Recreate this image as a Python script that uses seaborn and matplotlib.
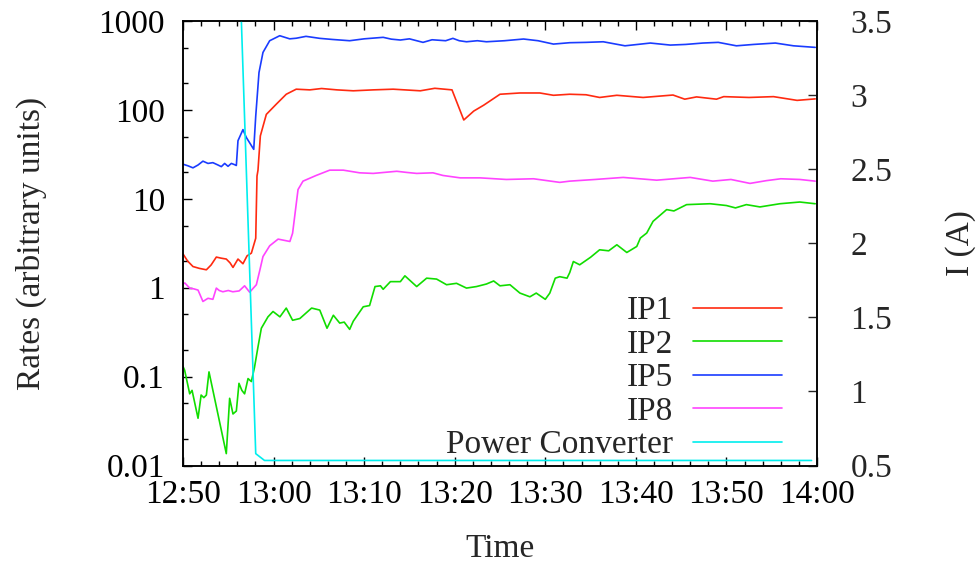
import numpy as np
import pandas as pd
import matplotlib
matplotlib.use("Agg")
import matplotlib.pyplot as plt
import matplotlib.dates as mdates
from matplotlib.ticker import LogLocator, NullFormatter
import seaborn as sns

# minutes after 12:50 and rates
ip1_t = [0, 0.5, 1.1, 1.8, 2.58, 3.1, 3.68, 4.2, 4.78, 5.2, 5.52, 6.07, 6.62, 7.07, 7.55, 8.03, 8.17, 8.28,
         8.54, 9.2, 10.3, 11.4, 12.5, 14.0, 15.3, 17.0, 18.8, 21.0, 23.2, 26.2, 27.8, 29.7, 31.0, 32.1, 33.2,
         35.0, 37.2, 39.4, 40.9, 42.7, 44.5, 46.0, 47.9, 50.8, 54.1, 55.4, 56.7, 58.9, 59.7, 62.5, 65.2, 67.8, 69.8]
ip1_v = [2.4, 2.0, 1.73, 1.65, 1.59, 1.8, 2.21, 2.15, 2.1, 1.9, 1.69, 2.1, 1.86, 2.28, 2.45, 3.6, 18, 21,
         51, 89, 116, 150, 171, 168, 174, 168, 164, 168, 171, 164, 175, 168, 77, 97, 113,
         150, 155, 155, 146, 150, 148, 138, 146, 138, 147, 132, 140, 132, 141, 138, 141, 128, 133]

ip2_t = [0, 0.18, 0.74, 1.0, 1.66, 2.0, 2.3, 2.58, 2.87, 4.78, 5.15, 5.52, 5.89, 6.18, 6.5, 6.8, 7.18, 7.55,
         7.9, 8.28, 8.65, 9.38, 9.94, 10.7, 11.4, 12.1, 12.9, 14.2, 15.1, 15.9, 16.6, 17.3, 17.8, 18.4, 18.8,
         19.9, 20.6, 21.2, 21.8, 22.1, 22.9, 24.0, 24.5, 25.8, 26.9, 28.0, 29.1, 30.2, 31.3, 32.4, 33.5, 34.3,
         35.0, 36.1, 37.2, 38.3, 39.0, 40.0, 40.5, 41.1, 41.6, 42.4, 42.7, 43.1, 43.8, 45.0, 46.0, 47.0, 47.9,
         49.0, 50.1, 50.5, 51.2, 51.9, 53.4, 54.2, 55.6, 58.2, 60.0, 61.0, 62.2, 63.7, 65.9, 68.1, 69.8]
ip2_v = [0.13, 0.118, 0.064, 0.07, 0.034, 0.062, 0.058, 0.062, 0.113, 0.0136, 0.057, 0.038, 0.041, 0.084,
         0.07, 0.064, 0.095, 0.088, 0.128, 0.216, 0.35, 0.47, 0.54, 0.47, 0.59, 0.43, 0.45, 0.59, 0.56, 0.35,
         0.49, 0.40, 0.41, 0.34, 0.42, 0.61, 0.63, 1.03, 1.05, 0.96, 1.17, 1.17, 1.36, 1.03, 1.28, 1.25, 1.08,
         1.12, 0.99, 1.03, 1.1, 1.19, 1.05, 1.08, 0.87, 0.79, 0.87, 0.74, 0.87, 1.28, 1.33, 1.28, 1.48, 1.97,
         1.81, 2.2, 2.67, 2.6, 3.04, 2.49, 2.91, 3.62, 4.12, 5.58, 7.56, 7.3, 8.6, 8.8, 8.4, 7.9, 8.6, 8.1,
         8.8, 9.2, 8.8]

ip5_t = [0, 0.55, 1.1, 1.66, 2.2, 2.76, 3.3, 3.86, 4.23, 4.6, 4.97, 5.34, 5.7, 5.89, 6.07, 6.62, 6.99, 7.81,
         8.03, 8.39, 8.83, 9.57, 10.68, 11.78, 12.5, 13.58, 15.1, 16.5, 18.4, 20.0, 22.1, 23.0, 24.0, 25.0,
         26.5, 27.5, 29.0, 29.8, 30.5, 31.3, 32.5, 33.5, 35.5, 37.6, 39.2, 40.9, 42.7, 44.5, 46.4, 48.8, 50.2,
         51.6, 53.8, 55.5, 57.4, 59.1, 61.1, 63.0, 65.4, 67.4, 69.8]
ip5_v = [24.5, 23.5, 22.3, 24, 26.5, 25, 25.5, 24, 23, 25, 23.2, 25, 24.2, 23.7, 45, 60, 49, 36,
         85, 263, 443, 600, 683, 630, 640, 672, 638, 620, 600, 630, 655, 625, 611, 630,
         575, 615, 600, 638, 600, 584, 600, 584, 600, 627, 600, 550, 570, 575, 584, 526, 545,
         565, 536, 545, 565, 575, 526, 545, 565, 526, 505]

ip8_t = [0, 0.2, 0.74, 1.2, 1.66, 2.2, 2.76, 3.3, 3.68, 4.0, 4.4, 5.0, 5.5, 6.2, 6.8, 7.36, 8.1, 8.5, 8.83,
         9.57, 10.5, 11.8, 12.1, 12.7, 13.25, 14.7, 16.2, 17.7, 19.5, 21.0, 23.6, 24.7, 25.8, 27.6, 28.7,
         30.6, 32.8, 35.7, 38.7, 41.6, 42.7, 45.5, 48.6, 52.3, 56.0, 58.5, 60.5, 62.6, 64.4, 66.0, 68.1, 69.8]
ip8_v = [1.1, 1.13, 0.99, 0.97, 0.94, 0.70, 0.76, 0.74, 0.99, 0.93, 0.90, 0.93, 0.90, 0.92, 1.05, 0.89, 1.08,
         1.6, 2.24, 2.96, 3.52, 3.31, 4.1, 12.7, 15.8, 18.3, 21, 21, 19.6, 19.3, 20.4, 19.8, 19.3, 19.6, 18.3,
         17.2, 17.2, 16.5, 16.8, 15.3, 15.8, 16.5, 17.4, 16.2, 17.4, 15.8, 16.5, 14.9, 16.0, 16.8, 16.5, 15.8]

# power converter current (A), right axis
pc_t = [0, 6.2, 8.03, 9.0, 69.4]
pc_i = [3.95, 3.95, 0.58, 0.534, 0.534]

start = pd.Timestamp("2000-01-01 12:50")


def to_time(minutes):
    return start + pd.to_timedelta(minutes, unit="min")


sns.set_style("white")
plt.rcParams["font.family"] = ["Liberation Serif", "DejaVu Serif"]
fs = 24
plt.rcParams["font.size"] = fs

fig = plt.figure(figsize=(9.76, 5.65), dpi=100)
ax = fig.add_axes([183 / 976, 1 - 465.5 / 565, 634 / 976, 444.5 / 565])
ax2 = ax.twinx()

lw = 1.2
sns.lineplot(x=to_time(ip1_t), y=ip1_v, ax=ax, color="#ff2a10", lw=lw, label="IP1")
sns.lineplot(x=to_time(ip2_t), y=ip2_v, ax=ax, color="#11dd00", lw=lw, label="IP2")
sns.lineplot(x=to_time(ip5_t), y=ip5_v, ax=ax, color="#1a3cff", lw=lw, label="IP5")
sns.lineplot(x=to_time(ip8_t), y=ip8_v, ax=ax, color="#ff44ff", lw=lw, label="IP8")
sns.lineplot(x=to_time(pc_t), y=pc_i, ax=ax2, color="#00eeee", lw=lw, label="Power Converter")

ax.set_yscale("log")
ax.set_xlim(to_time(0), to_time(70))
ax2.set_ylim(0.5, 3.5)

ax.yaxis.set_minor_locator(LogLocator(base=10, subs=[2.0, 5.0]))
ax.yaxis.set_minor_formatter(NullFormatter())
ax.set_yticks([0.01, 0.1, 1, 10, 100, 1000])
ax.set_yticklabels(["0.01", "0.1", "1", "10", "100", "1000"])
ax.set_ylim(0.01, 1000)

ax.xaxis.set_major_locator(mdates.MinuteLocator(byminute=range(0, 60, 10)))
ax.xaxis.set_minor_locator(mdates.MinuteLocator(byminute=range(0, 60, 2)))
ax.xaxis.set_major_formatter(mdates.DateFormatter("%H:%M"))

ax2.set_yticks([0.5, 1, 1.5, 2, 2.5, 3, 3.5])
ax2.set_yticklabels(["0.5", "1", "1.5", "2", "2.5", "3", "3.5"])

ax.tick_params(axis="both", which="both", direction="in", colors="black", labelsize=fs)
ax.tick_params(axis="x", which="both", top=True, bottom=True)
ax.tick_params(axis="y", which="both", left=True, right=False)
ax.tick_params(which="major", length=6.5, width=1.0)
ax.tick_params(which="minor", length=3.5, width=1.0)
ax.tick_params(axis="y", pad=13)
ax.tick_params(axis="x", pad=10)
ax2.tick_params(axis="y", which="major", direction="in", length=6.5, width=1.0, pad=24,
                right=True, left=False, labelsize=fs)
ax2.tick_params(axis="y", which="minor", right=False, left=False)

for a in (ax, ax2):
    for s in a.spines.values():
        s.set_color("black")
        s.set_linewidth(1.1)

ax.set_xlabel("Time", fontsize=fs)
ax.set_ylabel("Rates (arbitrary units)", fontsize=fs)
ax2.set_ylabel("I (A)", fontsize=fs)
ax.xaxis.set_label_coords(0.5, -0.152)
ax.yaxis.set_label_coords(-0.215, 0.5)
ax2.yaxis.set_label_coords(1.202, 0.5)

h1, l1 = ax.get_legend_handles_labels()
h2, l2 = ax2.get_legend_handles_labels()
if ax.get_legend() is not None:
    ax.get_legend().remove()
if ax2.get_legend() is not None:
    ax2.get_legend().remove()
ax2.legend(h1 + h2, l1 + l2, loc="lower right", bbox_to_anchor=(0.982, -0.041), frameon=False,
           markerfirst=False, handlelength=2.67, labelspacing=0.09, handletextpad=0.6,
           borderpad=0.2, fontsize=fs)

fig.savefig("out.png", dpi=100)
